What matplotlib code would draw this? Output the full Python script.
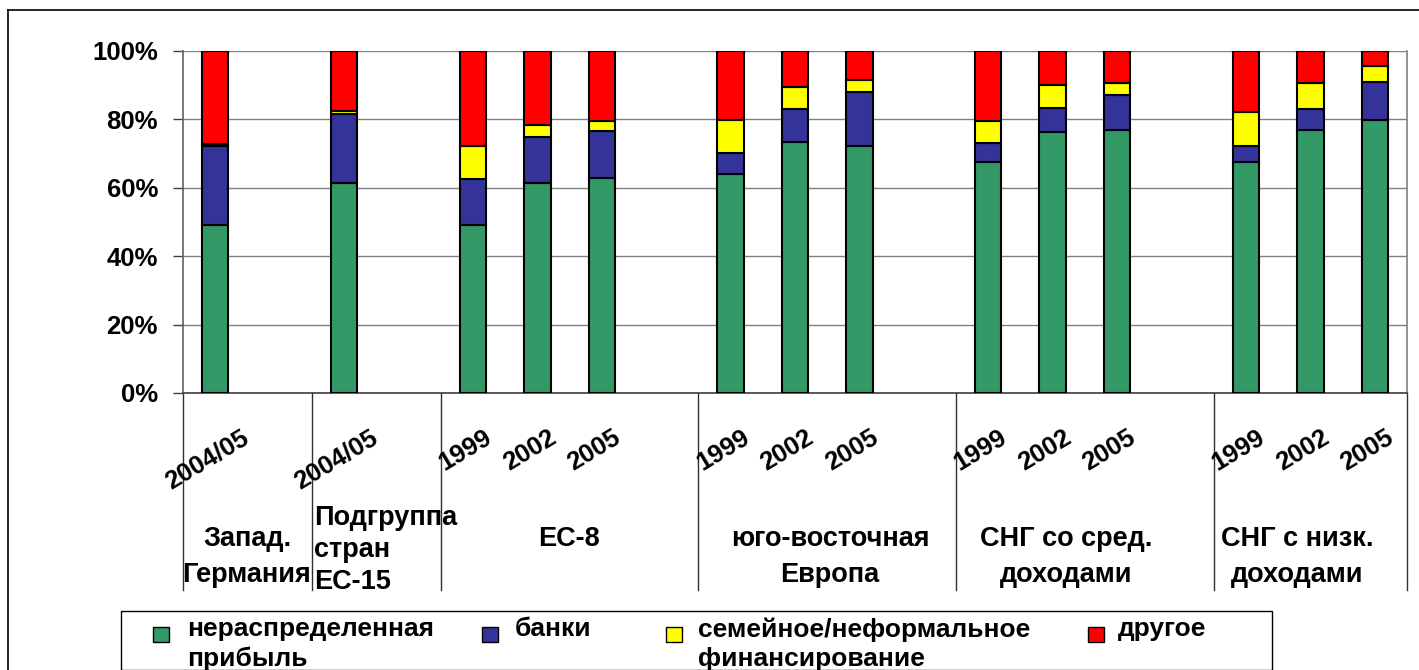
import matplotlib
matplotlib.use("Agg")
import matplotlib.pyplot as plt
import matplotlib.transforms as mtransforms
from matplotlib.patches import Rectangle
from matplotlib.lines import Line2D

plt.rcParams['font.family'] = ['Liberation Sans', 'DejaVu Sans']
plt.rcParams['font.weight'] = 'bold'

# ---------------- data ----------------
years = ["2004/05", "2004/05", "1999", "2002", "2005", "1999", "2002", "2005",
         "1999", "2002", "2005", "1999", "2002", "2005"]
positions = [0, 2, 4, 5, 6, 8, 9, 10, 12, 13, 14, 16, 17, 18]
groups = ["Запад.\nГермания", "Подгруппа\nстран\nЕС-15", "ЕС-8",
          "юго-восточная\nЕвропа", "СНГ со сред.\nдоходами", "СНГ с низк.\nдоходами"]
series_names = ["нераспределенная\nприбыль", "банки",
                "семейное/неформальное\nфинансирование", "другое"]
retained = [49.0, 61.5, 49.0, 61.3, 63.0, 64.0, 73.4, 72.1, 67.5, 76.4, 77.0, 67.5, 77.0, 79.9]
banks    = [23.3, 20.2, 13.6, 13.7, 13.5, 6.3, 9.6, 15.9, 5.5, 6.9, 10.0, 4.6, 6.0, 11.1]
family   = [0.4, 0.9, 9.5, 3.5, 2.9, 9.6, 6.4, 3.4, 6.4, 6.9, 3.6, 10.0, 7.6, 4.5]
other    = [27.3, 17.4, 27.9, 21.5, 20.6, 20.1, 10.6, 8.6, 20.6, 9.8, 9.4, 17.9, 9.4, 4.5]
colors = ["#339966", "#333399", "#FFFF00", "#FF0000"]

W, H = 1419, 670
fig = plt.figure(figsize=(W / 100, H / 100), dpi=100)


def fx(x):
    return x / W


def fy(y):
    return 1 - y / H


ax = fig.add_axes([fx(183), fy(393), (1407 - 183) / W, (393 - 51) / H])

# stacked bars
bottom = [0.0] * len(positions)
for vals, col in zip([retained, banks, family, other], colors):
    ax.bar(positions, [v / 100 for v in vals], width=0.41, bottom=bottom,
           color=col, edgecolor="black", linewidth=1.5, zorder=3)
    bottom = [b + v / 100 for b, v in zip(bottom, vals)]

ax.set_xlim(-0.5, 18.5)
ax.set_ylim(0, 1)
ax.set_yticks([0, 0.2, 0.4, 0.6, 0.8, 1.0])
ax.set_yticklabels(["0%", "20%", "40%", "60%", "80%", "100%"],
                   fontsize=18.5, fontweight="bold")
ax.tick_params(axis="y", length=7, width=1, color="#404040", pad=11)
ax.set_xticks([])
ax.yaxis.grid(True, color="#808080", linewidth=1.0, zorder=0)
ax.set_axisbelow(True)
ax.spines["top"].set_visible(False)
ax.spines["left"].set_color("#606060")
ax.spines["right"].set_color("#808080")
ax.spines["bottom"].set_color("#404040")
for s in ["left", "right", "bottom"]:
    ax.spines[s].set_linewidth(1.2)

trans = mtransforms.blended_transform_factory(ax.transData, ax.transAxes)

# group separators below the axis
sep_bottom = (393 - 590) / 342
for sx in [-0.5, 1.5, 3.5, 7.5, 11.5, 15.5, 18.5]:
    ax.plot([sx, sx], [0, sep_bottom], transform=trans, color="#303030",
            linewidth=1.0, clip_on=False)

# year labels
for p, lab in zip(positions, years):
    ax.text(p - 0.12, -0.094, lab, transform=trans, rotation=31,
            ha="center", va="top", fontsize=18.5, fontweight="bold")

# group labels
fs_grp = 19.5
ls_grp = 1.5
fig.text(fx(247), fy(526), groups[0], ha="center", va="top", fontsize=fs_grp,
         fontweight="bold", linespacing=ls_grp)
fig.text(fx(314), fy(505), groups[1], ha="left", va="top", fontsize=fs_grp,
         fontweight="bold", linespacing=1.3)
fig.text(fx(569), fy(526), groups[2], ha="center", va="top", fontsize=fs_grp,
         fontweight="bold", linespacing=ls_grp)
fig.text(fx(830), fy(526), groups[3], ha="center", va="top", fontsize=fs_grp,
         fontweight="bold", linespacing=ls_grp)
fig.text(fx(1066), fy(526), groups[4], ha="center", va="top", fontsize=fs_grp,
         fontweight="bold", linespacing=ls_grp)
fig.text(fx(1297), fy(526), groups[5], ha="center", va="top", fontsize=fs_grp,
         fontweight="bold", linespacing=ls_grp)

# outer chart frame (top and left border)
fig.add_artist(Line2D([fx(8), 1.0], [fy(10), fy(10)], color="black", linewidth=1.2))
fig.add_artist(Line2D([fx(8), fx(8)], [fy(10), 0.0], color="black", linewidth=1.2))

# legend box
fig.add_artist(Rectangle((fx(121), 0.0), (1272 - 121) / W, fy(611), fill=False,
                         edgecolor="black", linewidth=1.0, transform=fig.transFigure))
marker_x = [153, 482, 666, 1088]
text_x = [187, 515, 698, 1118]
for mx, tx, name, col in zip(marker_x, text_x, series_names, colors):
    fig.add_artist(Rectangle((fx(mx), fy(642)), 16 / W, 15 / H, facecolor=col,
                             edgecolor="black", linewidth=1.0,
                             transform=fig.transFigure))
    fig.text(fx(tx), fy(617), name, ha="left", va="top", fontsize=19,
             fontweight="bold", linespacing=1.3)

fig.savefig("out.png", dpi=100)
